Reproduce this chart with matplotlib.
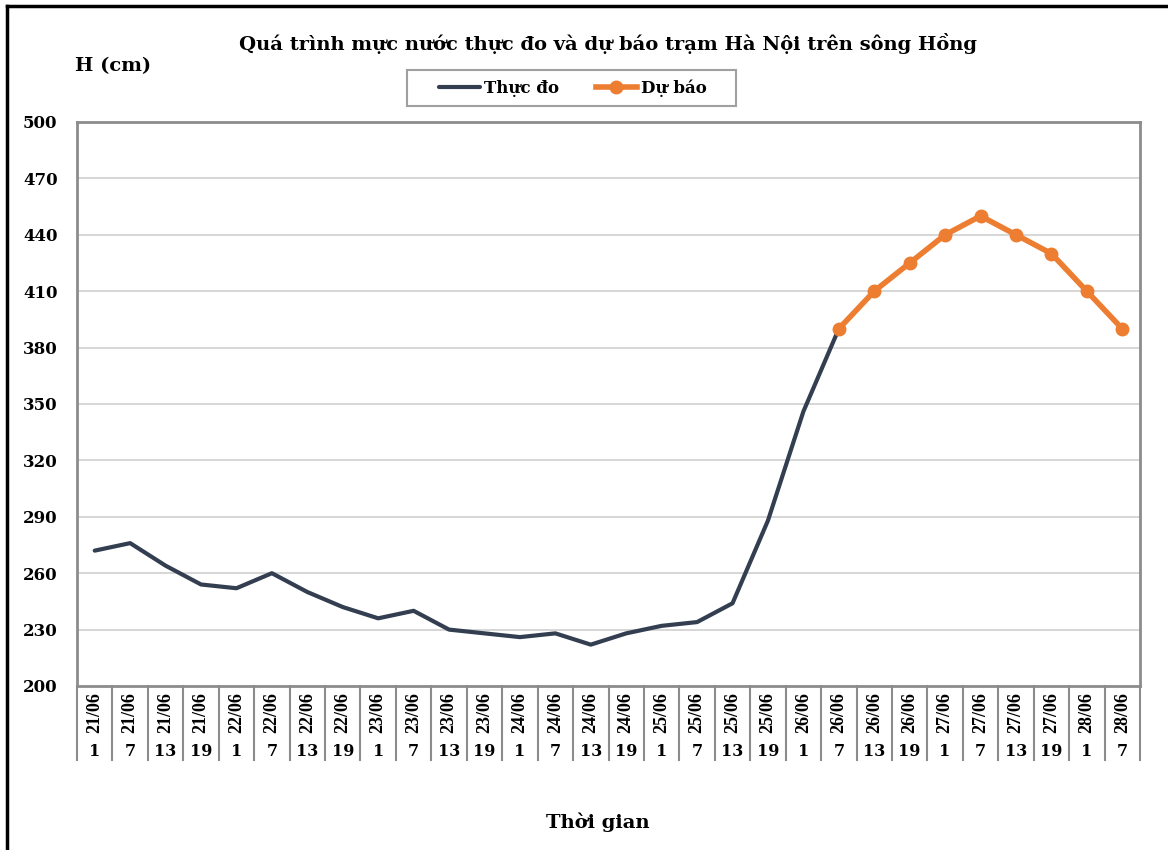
import matplotlib.pyplot as plt
from matplotlib.lines import Line2D
from matplotlib.patches import Rectangle
import numpy as np

plt.rcParams['font.family'] = ['DejaVu Serif']
plt.rcParams['font.weight'] = 'bold'

# nhãn trục thời gian
days = ['21/06'] * 4 + ['22/06'] * 4 + ['23/06'] * 4 + ['24/06'] * 4 + \
       ['25/06'] * 4 + ['26/06'] * 4 + ['27/06'] * 4 + ['28/06'] * 2
hours = ['1', '7', '13', '19'] * 7 + ['1', '7']

# mực nước thực đo (21/06 1h -> 26/06 7h)
observed = [272, 276, 264, 254, 252, 260, 250, 242, 236, 240, 230, 228,
            226, 228, 222, 228, 232, 234, 244, 288, 346, 390]
# mực nước dự báo (26/06 7h -> 28/06 7h)
forecast = [390, 410, 425, 440, 450, 440, 430, 410, 390]

yticks = [200, 230, 260, 290, 320, 350, 380, 410, 440, 470, 500]

W, H = 1168, 850
fig = plt.figure(figsize=(W / 100, H / 100), dpi=100)
ax = fig.add_axes([77 / W, 1 - 686 / H, (1140 - 77) / W, (686 - 122) / H])

n = len(days)
x_obs = np.arange(len(observed))
x_fc = np.arange(n - len(forecast), n)

for y in yticks[1:-1]:
    ax.axhline(y, color='#d0d0d0', lw=1.2, zorder=0)

ax.plot(x_obs, observed, color='#333f50', lw=3, solid_capstyle='round', label='Thực đo', zorder=3)
ax.plot(x_fc, forecast, color='#ed7d31', lw=4, marker='o', ms=9, label='Dự báo', zorder=4)

ax.set_xlim(-0.5, n - 0.5)
ax.set_ylim(200, 500)
ax.set_yticks(yticks)
ax.set_yticklabels([str(v) for v in yticks], fontsize=12, fontweight='bold')
ax.tick_params(axis='y', length=0, pad=14)
ax.set_xticks([])
for s in ax.spines.values():
    s.set_color('#8c8c8c')
    s.set_linewidth(2)

# bảng nhãn dưới trục x
trans = ax.get_xaxis_transform()
h_ax = 686 - 122
for i in range(n + 1):
    ax.plot([i - 0.5, i - 0.5], [0, -(760 - 686) / h_ax], color='#8c8c8c', lw=1.5,
            transform=trans, clip_on=False)
for i in range(n):
    ax.text(i, -(713 - 686) / h_ax, days[i], transform=trans, rotation=90,
            ha='center', va='center', fontsize=13, fontweight='bold',
            family='Liberation Serif')
    ax.text(i, -(752 - 686) / h_ax, hours[i], transform=trans,
            ha='center', va='center', fontsize=11.5, fontweight='bold')

fig.text(608 / W, 1 - 44 / H, 'Quá trình mực nước thực đo và dự báo trạm Hà Nội trên sông Hồng',
         ha='center', va='center', fontsize=14, fontweight='bold')
fig.text(75 / W, 1 - 66 / H, 'H (cm)', ha='left', va='center', fontsize=14, fontweight='bold')
fig.text(598 / W, 1 - 822 / H, 'Thời gian', ha='center', va='center', fontsize=14, fontweight='bold')

leg = ax.legend(loc='center', bbox_to_anchor=(573 / W, 1 - 88 / H), bbox_transform=fig.transFigure,
                ncol=2, frameon=False, prop={'size': 12, 'weight': 'bold'},
                handlelength=2.45, handletextpad=0.25, columnspacing=2.2, borderpad=0.3)
fig.add_artist(Rectangle((407 / W, 1 - 106 / H), (736 - 407) / W, 36 / H,
                         transform=fig.transFigure, fill=False, edgecolor='#a0a0a0', lw=1.5))

# khung hình
fig.add_artist(Line2D([7 / W, 7 / W], [0, 1 - 6 / H], color='black', lw=2.5))
fig.add_artist(Line2D([7 / W, 1], [1 - 6 / H, 1 - 6 / H], color='black', lw=2.5))

fig.savefig('out.png', dpi=100)
